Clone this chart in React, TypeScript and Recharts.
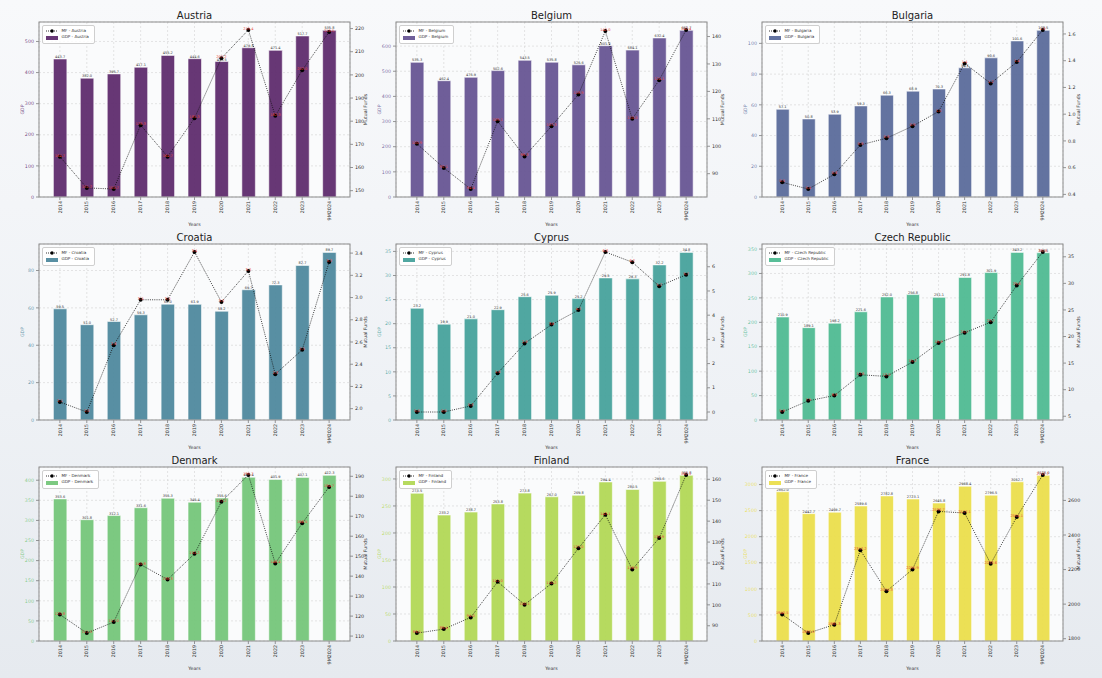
import React from 'react';
import { ComposedChart, Bar, Line, XAxis, YAxis, CartesianGrid, Legend, LabelList } from 'recharts';

// Shared categories
const years = ['2014', '2015', '2016', '2017', '2018', '2019', '2020', '2021', '2022', '2023', '9M2024'];

// GDP (bars) and Mutual Funds (line) per country
const austriaGdp = [443.7, 382.0, 395.7, 417.1, 455.2, 444.6, 435.5, 479.8, 471.4, 517.7, 535.8];
const austriaMf = [164.7, 151.2, 150.7, 178.3, 164.7, 181.3, 207.2, 219.4, 182.3, 202.0, 218.5];

const belgiumGdp = [535.3, 462.4, 475.9, 502.6, 543.5, 535.8, 525.6, 601.6, 584.1, 632.4, 662.7];
const belgiumMf = [100.9, 92.1, 84.4, 109.1, 96.3, 107.3, 118.9, 142.0, 110.0, 124.1, 142.4];

const bulgariaGdp = [57.1, 50.8, 53.9, 59.3, 66.3, 68.9, 70.3, 84.1, 90.6, 101.6, 108.5];
const bulgariaMf = [0.49, 0.44, 0.55, 0.77, 0.82, 0.91, 1.02, 1.38, 1.23, 1.39, 1.63];

const croatiaGdp = [59.5, 51.0, 52.7, 56.3, 62.0, 61.9, 58.2, 69.7, 72.3, 82.7, 89.7];
const croatiaMf = [2.06, 1.97, 2.57, 2.98, 2.98, 3.41, 2.96, 3.24, 2.31, 2.53, 3.32];

const cyprusGdp = [23.2, 19.9, 21.0, 22.9, 25.6, 25.9, 25.2, 29.5, 29.3, 32.2, 34.8];
const cyprusMf = [0.0, 0.0, 0.25, 1.6, 2.83, 3.61, 4.21, 6.61, 6.19, 5.2, 5.67];

const czechGdp = [210.9, 189.1, 198.2, 221.6, 252.0, 256.8, 251.1, 291.8, 301.9, 343.2, 342.5];
const czechMf = [5.8, 7.9, 8.9, 12.8, 12.5, 15.2, 18.8, 20.7, 22.7, 29.6, 35.9];

const denmarkGdp = [353.6, 301.8, 312.1, 331.6, 355.3, 345.4, 355.6, 407.4, 401.9, 407.1, 412.3];
const denmarkMf = [120.8, 111.5, 117.0, 145.8, 138.3, 151.2, 177.2, 190.7, 146.4, 166.5, 184.7];

const finlandGdp = [273.5, 233.2, 238.7, 253.8, 273.8, 267.0, 269.8, 294.4, 280.5, 295.6, 306.8];
const finlandMf = [86.5, 88.4, 94.0, 111.0, 100.1, 110.2, 127.0, 143.1, 116.9, 131.9, 162.1];

const franceGdp = [2862.0, 2442.7, 2469.7, 2589.6, 2782.8, 2723.1, 2645.8, 2968.4, 2796.5, 3052.7, 3178.0];
const franceMf = [1940.5, 1832.5, 1881.3, 2312.2, 2074.3, 2200.9, 2536.7, 2527.1, 2233.6, 2504.1, 2747.7];

// Axis tick values
const austriaGdpTicks = [0, 100, 200, 300, 400, 500];
const austriaMfTicks = [150, 160, 170, 180, 190, 200, 210, 220];
const belgiumGdpTicks = [0, 100, 200, 300, 400, 500, 600];
const belgiumMfTicks = [90, 100, 110, 120, 130, 140];
const bulgariaGdpTicks = [0, 20, 40, 60, 80, 100];
const bulgariaMfTicks = [0.4, 0.6, 0.8, 1.0, 1.2, 1.4, 1.6];
const croatiaGdpTicks = [0, 20, 40, 60, 80];
const croatiaMfTicks = [2.0, 2.2, 2.4, 2.6, 2.8, 3.0, 3.2, 3.4];
const cyprusGdpTicks = [0, 5, 10, 15, 20, 25, 30, 35];
const cyprusMfTicks = [0, 1, 2, 3, 4, 5, 6];
const czechGdpTicks = [0, 50, 100, 150, 200, 250, 300, 350];
const czechMfTicks = [5, 10, 15, 20, 25, 30, 35];
const denmarkGdpTicks = [0, 50, 100, 150, 200, 250, 300, 350, 400];
const denmarkMfTicks = [110, 120, 130, 140, 150, 160, 170, 180, 190];
const finlandGdpTicks = [0, 50, 100, 150, 200, 250, 300];
const finlandMfTicks = [90, 100, 110, 120, 130, 140, 150, 160];
const franceGdpTicks = [0, 500, 1000, 1500, 2000, 2500, 3000];
const franceMfTicks = [1800, 2000, 2200, 2400, 2600];

type PanelCfg = {
  name: string;
  gdp: number[];
  mf: number[];
  color: string;
  gdpTicks: number[];
  mfTicks: number[];
  mfDigits: number;
};

const panels: PanelCfg[] = [
  { name: 'Austria', gdp: austriaGdp, mf: austriaMf, color: '#5f2c6e', gdpTicks: austriaGdpTicks, mfTicks: austriaMfTicks, mfDigits: 0 },
  { name: 'Belgium', gdp: belgiumGdp, mf: belgiumMf, color: '#675593', gdpTicks: belgiumGdpTicks, mfTicks: belgiumMfTicks, mfDigits: 0 },
  { name: 'Bulgaria', gdp: bulgariaGdp, mf: bulgariaMf, color: '#5b6b9b', gdpTicks: bulgariaGdpTicks, mfTicks: bulgariaMfTicks, mfDigits: 1 },
  { name: 'Croatia', gdp: croatiaGdp, mf: croatiaMf, color: '#4f899e', gdpTicks: croatiaGdpTicks, mfTicks: croatiaMfTicks, mfDigits: 1 },
  { name: 'Cyprus', gdp: cyprusGdp, mf: cyprusMf, color: '#47a29c', gdpTicks: cyprusGdpTicks, mfTicks: cyprusMfTicks, mfDigits: 0 },
  { name: 'Czech Republic', gdp: czechGdp, mf: czechMf, color: '#4fba92', gdpTicks: czechGdpTicks, mfTicks: czechMfTicks, mfDigits: 0 },
  { name: 'Denmark', gdp: denmarkGdp, mf: denmarkMf, color: '#75c67a', gdpTicks: denmarkGdpTicks, mfTicks: denmarkMfTicks, mfDigits: 0 },
  { name: 'Finland', gdp: finlandGdp, mf: finlandMf, color: '#b2d856', gdpTicks: finlandGdpTicks, mfTicks: finlandMfTicks, mfDigits: 0 },
  { name: 'France', gdp: franceGdp, mf: franceMf, color: '#ebde4c', gdpTicks: franceGdpTicks, mfTicks: franceMfTicks, mfDigits: 0 },
];

// Grid geometry: plot-area origin and size for each column / row
const COLS = [{ x: 39, w: 311 }, { x: 396, w: 311 }, { x: 762, w: 301 }];
const ROWS = [{ y: 22, h: 175 }, { y: 244, h: 176 }, { y: 467, h: 174 }];

const FONT = '"DejaVu Sans", Verdana, sans-serif';
const AX_L = 40;
const AX_R = 40;
const TOP = 22;
const X_H = 34;

const TICK_FS = 4.8;
const LABEL_FS = 4.7;

const XTick = (props: any) => {
  const { x, y, payload } = props;
  return (
    <text
      transform={`translate(${x},${y}) rotate(-90)`}
      textAnchor="end"
      dy="0.35em"
      fontSize={TICK_FS}
      fontFamily={FONT}
      fill="#333"
    >
      {payload.value}
    </text>
  );
};

const LegendBox = ({ name, color }: { name: string; color: string }) => (
  <div
    style={{
      background: 'rgba(255,255,255,0.85)',
      border: '0.6px solid #cfcfcf',
      borderRadius: 2,
      padding: '2px 5px 2px 3px',
      fontFamily: FONT,
      fontSize: 4.1,
      color: '#333',
      lineHeight: '6.7px',
      whiteSpace: 'nowrap',
    }}
  >
    <div style={{ display: 'flex', alignItems: 'center' }}>
      <svg width={12} height={6} style={{ display: 'block' }}>
        <line x1={0} x2={12} y1={3} y2={3} stroke="#000" strokeWidth={0.8} strokeDasharray="1 1" />
        <circle cx={6} cy={3} r={1.7} fill="#000" />
      </svg>
      <span style={{ marginLeft: 4 }}>MF - {name}</span>
    </div>
    <div style={{ display: 'flex', alignItems: 'center' }}>
      <div style={{ width: 12, height: 4, background: color, opacity: 0.95 }} />
      <span style={{ marginLeft: 4 }}>GDP - {name}</span>
    </div>
  </div>
);

const fmt1 = (v: any) => (typeof v === 'number' ? v.toFixed(1) : v);

function Panel({ cfg, col, row }: { cfg: PanelCfg; col: { x: number; w: number }; row: { y: number; h: number } }) {
  const W = col.w + AX_L + AX_R;
  const H = row.h + TOP + X_H;
  const data = years.map((year, i) => ({ year, gdp: cfg.gdp[i], mf: cfg.mf[i] }));

  const gdpMax = Math.max(...cfg.gdp) * 1.05;
  const mfMin = Math.min(...cfg.mf);
  const mfMax = Math.max(...cfg.mf);
  const mfPad = (mfMax - mfMin) * 0.05;

  const unit = col.w / 11.55;
  const pad = (col.w - unit * 11) / 2;
  const barSize = unit * 0.5;

  return (
    <div style={{ position: 'absolute', left: col.x - AX_L, top: row.y - TOP, width: W, height: H }}>
      <ComposedChart width={W} height={H} data={data} margin={{ top: TOP, right: 0, bottom: 0, left: 0 }}>
        <CartesianGrid
          yAxisId="gdp"
          stroke="#d4d4d4"
          strokeDasharray="2 2"
          strokeWidth={0.6}
          fill="#fafbfc"
        />
        <XAxis
          dataKey="year"
          height={X_H}
          padding={{ left: pad, right: pad }}
          interval={0}
          tick={<XTick />}
          tickSize={3}
          tickMargin={1}
          tickLine={{ stroke: '#555', strokeWidth: 0.6 }}
          axisLine={false}
        />
        <YAxis
          yAxisId="gdp"
          orientation="left"
          width={AX_L}
          type="number"
          domain={[0, gdpMax]}
          ticks={cfg.gdpTicks}
          interval={0}
          tickSize={3}
          tickMargin={2}
          tickLine={{ stroke: '#555', strokeWidth: 0.6 }}
          axisLine={false}
          tick={{ fontSize: TICK_FS, fontFamily: FONT, fill: cfg.color, fillOpacity: 0.85 }}
          tickFormatter={(v: number) => String(v)}
        />
        <YAxis
          yAxisId="mf"
          orientation="right"
          width={AX_R}
          type="number"
          domain={[mfMin - mfPad, mfMax + mfPad]}
          ticks={cfg.mfTicks}
          interval={0}
          tickSize={3}
          tickMargin={2}
          tickLine={{ stroke: '#555', strokeWidth: 0.6 }}
          axisLine={false}
          tick={{ fontSize: TICK_FS, fontFamily: FONT, fill: '#333' }}
          tickFormatter={(v: number) => v.toFixed(cfg.mfDigits)}
        />
        <Legend
          layout="vertical"
          align="center"
          verticalAlign="middle"
          wrapperStyle={{ top: TOP + 2.5, left: AX_L + 2.5, width: 'auto' }}
          content={() => <LegendBox name={cfg.name} color={cfg.color} />}
        />
        <Bar
          yAxisId="gdp"
          dataKey="gdp"
          name={`GDP - ${cfg.name}`}
          fill={cfg.color}
          fillOpacity={0.95}
          stroke="#ffffff"
          strokeOpacity={0.7}
          strokeWidth={0.8}
          barSize={barSize}
          isAnimationActive={false}
        >
          <LabelList
            dataKey="gdp"
            position="top"
            offset={1}
            fontSize={3.5}
            fontFamily={FONT}
            fill="#333"
            formatter={fmt1}
          />
        </Bar>
        <Line
          yAxisId="mf"
          dataKey="mf"
          name={`MF - ${cfg.name}`}
          type="linear"
          stroke="#111"
          strokeWidth={0.8}
          strokeDasharray="1 1.2"
          dot={{ r: 2, fill: '#000', stroke: '#000', strokeWidth: 0, strokeDasharray: '' }}
          isAnimationActive={false}
        >
          <LabelList
            dataKey="mf"
            position="top"
            offset={0}
            fontSize={3.6}
            fontFamily={FONT}
            fill="#e8453c"
            formatter={fmt1}
          />
        </Line>
      </ComposedChart>
      <svg
        width={W}
        height={H}
        style={{ position: 'absolute', left: 0, top: 0, pointerEvents: 'none', overflow: 'visible' }}
      >
        <rect x={AX_L} y={TOP} width={col.w} height={row.h} fill="none" stroke="#8c8c8c" strokeWidth={1} />
        <text
          x={AX_L + col.w / 2}
          y={TOP - 6.5}
          textAnchor="middle"
          dominantBaseline="central"
          fontSize={10}
          fontFamily={FONT}
          fill="#222"
        >
          {cfg.name}
        </text>
        <text
          transform={`translate(${AX_L - 17},${TOP + row.h / 2}) rotate(-90)`}
          textAnchor="middle"
          dominantBaseline="central"
          fontSize={LABEL_FS}
          fontFamily={FONT}
          fill={cfg.color}
          fillOpacity={0.85}
        >
          GDP
        </text>
        <text
          transform={`translate(${AX_L + col.w + 15},${TOP + row.h / 2}) rotate(-90)`}
          textAnchor="middle"
          dominantBaseline="central"
          fontSize={LABEL_FS}
          fontFamily={FONT}
          fill="#333"
        >
          Mutual Funds
        </text>
        <text
          x={AX_L + col.w / 2}
          y={TOP + row.h + 27.5}
          textAnchor="middle"
          dominantBaseline="central"
          fontSize={LABEL_FS}
          fontFamily={FONT}
          fill="#333"
        >
          Years
        </text>
      </svg>
    </div>
  );
}

export default function App() {
  return (
    <div
      style={{
        position: 'absolute',
        left: 0,
        top: 0,
        width: 1102,
        height: 678,
        overflow: 'hidden',
        background: 'linear-gradient(180deg, #f8f9fb 0%, #eef1f5 60%, #e6eaef 100%)',
      }}
    >
      {panels.map((cfg, i) => (
        <Panel key={cfg.name} cfg={cfg} col={COLS[i % 3]} row={ROWS[Math.floor(i / 3)]} />
      ))}
    </div>
  );
}
